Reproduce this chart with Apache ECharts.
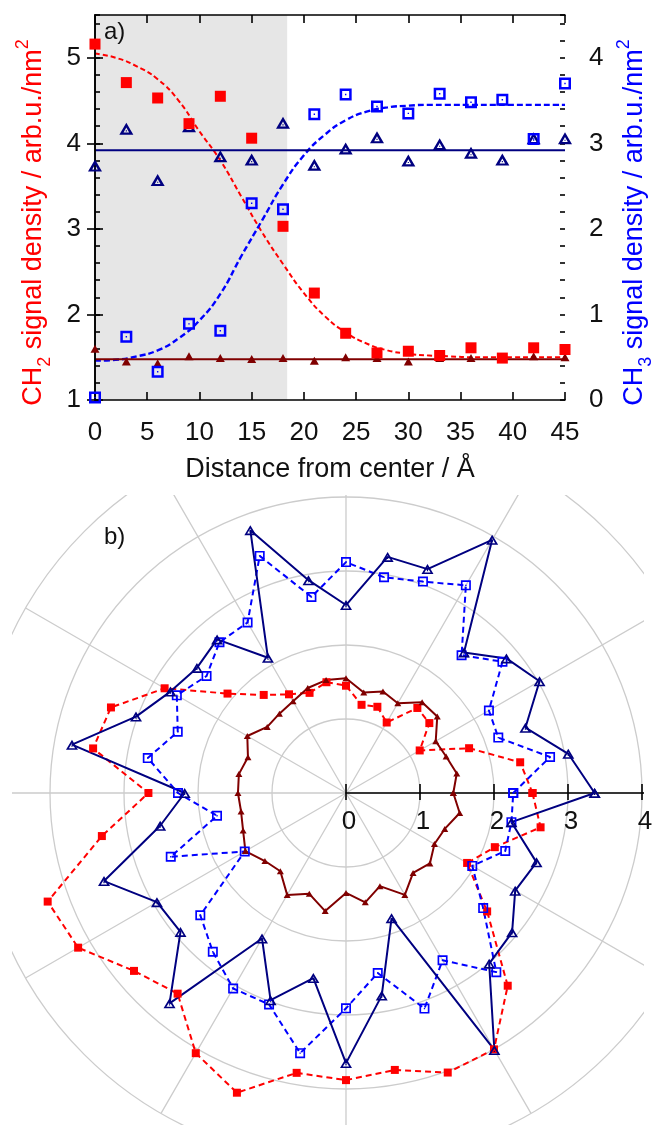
<!DOCTYPE html>
<html>
<head>
<meta charset="utf-8">
<script src="https://cdn.jsdelivr.net/npm/echarts@6/dist/echarts.min.js"></script>
<style>
  html, body { margin: 0; padding: 0; background: #fff; }
  #chart { width: 655px; height: 1125px; }
</style>
</head>
<body>
<div id="chart"></div>
<script>
// ---- a) radial profiles (distance from center, Å) ----
const distance     = [0, 3, 6, 9, 12, 15, 18, 21, 24, 27, 30, 33, 36, 39, 42, 45];
const ch2Density   = [5.16, 4.71, 4.53, 4.23, 4.55, 4.06, 3.03, 2.25, 1.78, 1.55, 1.57, 1.52, 1.61, 1.49, 1.61, 1.59];
const ch3Density   = [0.03, 0.74, 0.33, 0.89, 0.81, 2.30, 2.23, 3.34, 3.57, 3.43, 3.35, 3.58, 3.48, 3.51, 3.05, 3.70];
const ch3Reference = [2.74, 3.17, 2.57, 3.20, 2.85, 2.81, 3.24, 2.75, 2.94, 3.07, 2.80, 2.99, 2.89, 2.81, 3.06, 3.06];
const ch2Reference = [1.60, 1.45, 1.43, 1.51, 1.49, 1.48, 1.49, 1.46, 1.50, 1.49, 1.45, 1.49, 1.49, 1.49, 1.51, 1.50];
const ch3ReferenceMean = 2.92;
const ch2ReferenceMean = 1.475;

// fitted profiles, sampled every 2 Å
const fitX   = [0, 2, 4, 6, 8, 10, 12, 14, 16, 18, 20, 22, 24, 26, 28, 30, 32, 34, 36, 38, 40, 42, 44, 45];
const ch2Fit = [5.05, 5.00, 4.90, 4.75, 4.50, 4.14, 3.80, 3.38, 2.96, 2.59, 2.25, 1.98, 1.79, 1.66, 1.58, 1.54, 1.52, 1.51, 1.50, 1.50, 1.50, 1.50, 1.50, 1.50];
const ch3Fit = [0.46, 0.47, 0.51, 0.58, 0.72, 0.93, 1.24, 1.68, 2.10, 2.52, 2.86, 3.10, 3.27, 3.37, 3.42, 3.44, 3.45, 3.45, 3.45, 3.45, 3.45, 3.45, 3.45, 3.45];

const coreRadius = 18.4;   // shaded core region, Å

// ---- b) angular profiles (degrees) ----
const angleDeg = [0, 10, 20, 30, 40, 50, 60, 70, 80, 90, 100, 110, 120, 130, 140, 150, 160, 170,
                  180, 190, 200, 210, 220, 230, 240, 250, 260, 270, 280, 290, 300, 310, 320, 330, 340, 350];
const ch2Polar = [2.52, 2.39, 1.77, 1.15, 1.47, 1.50, 1.10, 1.24, 1.21, 1.45, 1.52, 1.44, 1.54, 1.73, 2.09, 2.83, 3.38, 3.47,
                  2.67, 3.35, 4.29, 4.18, 3.74, 3.54, 4.06, 4.31, 3.84, 3.88, 3.80, 4.02, 4.00, 3.40, 2.49, 1.89, 2.14, 2.67];
const ch3Polar = [2.26, 2.80, 2.19, 2.23, 2.76, 2.43, 3.24, 3.04, 2.96, 3.12, 2.69, 3.41, 2.66, 2.66, 2.46, 2.64, 2.42, 2.72,
                  2.27, 1.77, 2.52, 1.58, 2.57, 2.80, 3.05, 3.04, 3.57, 2.91, 2.47, 3.10, 2.61, 3.16, 2.42, 1.97, 2.29, 2.27];
const ch3RefPolar = [3.36, 3.05, 2.58, 3.02, 2.83, 2.48, 3.95, 3.22, 3.24, 2.54, 2.92, 3.78, 2.11, 2.71, 2.63, 2.74, 3.02, 3.76,
                     2.18, 2.55, 3.48, 2.95, 2.92, 3.71, 2.27, 2.98, 2.54, 3.65, 2.78, 1.80, 4.01, 3.01, 2.93, 2.64, 2.74, 2.27];
const ch2RefPolar = [1.45, 1.52, 1.44, 1.40, 1.61, 1.60, 1.40, 1.46, 1.38, 1.55, 1.55, 1.51, 1.43, 1.40, 1.39, 1.54, 1.41, 1.47,
                     1.46, 1.44, 1.48, 1.57, 1.43, 1.38, 1.59, 1.45, 1.62, 1.35, 1.50, 1.34, 1.59, 1.41, 1.48, 1.38, 1.42, 1.56];

// ---- styling ----
const FONT = '"Liberation Sans", Arial, Helvetica, sans-serif';
const RED = '#ff0000', BLUE = '#0000ff', NAVY = '#000080', MAROON = '#800000';
const INK = '#111111', GRID = '#cccccc';
const TICK_FONT = 26, TITLE_FONT = 27;
// open square / open triangle with a centre dot (bold variants for panel a)
const SQUARE_OPEN = 'path://M0,0H12V12H0Z M2,2V10H10V2Z M5.2,5.2H6.8V6.8H5.2Z';
const SQUARE_BOLD = 'path://M0,0H12V12H0Z M2.5,2.5V9.5H9.5V2.5Z M5.3,5.3H6.7V6.7H5.3Z';
const TRI_OPEN = 'path://M6,0L12,11H0Z M6,3.8L2.9,9.3H9.1Z M5.4,6.6H6.6V7.8H5.4Z';
const TRI_BOLD = 'path://M6,0L12,11H0Z M6,4.4L3.6,9H8.4Z M5.5,6.9H6.5V7.9H5.5Z';

const zip = (xs, ys) => xs.map((x, i) => [x, ys[i]]);
const ring = vals => vals.map((r, i) => [r, angleDeg[i]]).concat([[vals[0], 360]]);

const axisLineStyle = { color: '#000', width: 1.6 };

function titleStyle(color) {
  return {
    color: color, fontFamily: FONT,
    padding: [0, 30, 0, 0],
    rich: {
      m:   { fontSize: TITLE_FONT, color: color, fontFamily: FONT, lineHeight: 40, verticalAlign: 'middle' },
      sub: { fontSize: 18, color: color, fontFamily: FONT, lineHeight: 18, verticalAlign: 'bottom' },
      sup: { fontSize: 18, color: color, fontFamily: FONT, lineHeight: 18, verticalAlign: 'top' }
    }
  };
}

const minorY = (min, max, pos) => ({
  type: 'value', min: min, max: max, interval: 0.2, position: pos, z: 5,
  axisLine: { show: false },
  axisTick: { show: true, inside: true, length: 5, lineStyle: axisLineStyle },
  axisLabel: { show: false }, splitLine: { show: false }
});

const option = {
  animation: false,
  backgroundColor: '#fff',
  textStyle: { fontFamily: FONT },
  grid: { left: 95, top: 15, width: 470, height: 385, show: false, containLabel: false, outerBoundsMode: 'none' },
  xAxis: [
    {
      type: 'value', min: 0, max: 45, interval: 5, position: 'bottom', z: 5,
      axisLine: { onZero: false, lineStyle: axisLineStyle },
      axisTick: { inside: true, length: 8, lineStyle: axisLineStyle },
      axisLabel: { fontSize: TICK_FONT, color: INK, margin: 20, fontFamily: FONT },
      splitLine: { show: false },
      name: 'Distance from center / Å', nameLocation: 'middle', nameGap: 56,
      nameTextStyle: { fontSize: TITLE_FONT, color: INK, fontFamily: FONT }
    },
    {
      type: 'value', min: 0, max: 45, interval: 5, position: 'top', z: 5,
      axisLine: { onZero: false, lineStyle: axisLineStyle },
      axisTick: { inside: true, length: 8, lineStyle: axisLineStyle },
      axisLabel: { show: false }, splitLine: { show: false }
    }
  ],
  yAxis: [
    {
      type: 'value', min: 1, max: 5.5, interval: 1, position: 'left', z: 5,
      axisLine: { show: true, lineStyle: axisLineStyle },
      axisTick: { inside: true, length: 8, lineStyle: axisLineStyle },
      axisLabel: { fontSize: TICK_FONT, color: INK, margin: 14, showMaxLabel: false, fontFamily: FONT },
      splitLine: { show: false },
      name: '{m|CH}{sub|2}{m| signal density / arb.u./nm}{sup|2}',
      nameLocation: 'middle', nameRotate: 90, nameGap: 41,
      nameTextStyle: titleStyle(RED)
    },
    {
      type: 'value', min: 0, max: 4.5, interval: 1, position: 'right', z: 5,
      axisLine: { show: true, lineStyle: axisLineStyle },
      axisTick: { inside: true, length: 8, lineStyle: axisLineStyle },
      axisLabel: { fontSize: TICK_FONT, color: INK, margin: 24, showMaxLabel: false, fontFamily: FONT },
      splitLine: { show: false },
      name: '{m|CH}{sub|3}{m| signal density / arb.u./nm}{sup|2}',
      nameLocation: 'middle', nameRotate: 90, nameGap: 50,
      nameTextStyle: titleStyle(BLUE)
    },
    minorY(1, 5.5, 'left'),
    minorY(0, 4.5, 'right')
  ],
  polar: [
    { center: [346, 793], radius: 370 },
    { center: [346, 793], radius: 370 }
  ],
  angleAxis: [
    {
      polarIndex: 0, type: 'value', min: 0, max: 360, interval: 30, startAngle: 0, clockwise: false, z: 0,
      axisLine: { show: false }, axisTick: { show: false }, axisLabel: { show: false },
      splitLine: { show: true, lineStyle: { color: GRID, width: 1.3 } }
    },
    { polarIndex: 1, type: 'value', min: 0, max: 360, startAngle: 0, clockwise: false, show: false }
  ],
  radiusAxis: [
    {
      // axis line, upper ticks and circular grid
      polarIndex: 0, type: 'value', min: 0, max: 5, interval: 1, z: 1,
      axisLine: { show: true, lineStyle: axisLineStyle },
      axisTick: { show: true, length: 9, lineStyle: axisLineStyle },
      axisLabel: { show: false },
      splitLine: { show: true, lineStyle: { color: GRID, width: 1.3 } }
    },
    {
      // lower ticks and tick labels below the axis
      polarIndex: 1, type: 'value', min: 0, max: 5, interval: 1, z: 3,
      axisLine: { show: false },
      axisTick: { show: true, length: -7, lineStyle: axisLineStyle },
      axisLabel: { fontSize: TICK_FONT, color: INK, margin: -42, padding: [0, 0, 0, 6], fontFamily: FONT },
      splitLine: { show: false }
    }
  ],
  graphic: [
    // keep the polar grid inside its panel
    { type: 'rect', z: 2, silent: true, shape: { x: 0, y: 0, width: 655, height: 495 }, style: { fill: '#fff' } },
    { type: 'rect', z: 2, silent: true, shape: { x: 0, y: 0, width: 12, height: 1125 }, style: { fill: '#fff' } },
    { type: 'rect', z: 2, silent: true, shape: { x: 644, y: 0, width: 11, height: 1125 }, style: { fill: '#fff' } },
    { type: 'text', z: 10, left: 104, top: 20, style: { text: 'a)', font: '24px ' + FONT, fill: INK } },
    { type: 'text', z: 10, left: 104, top: 525, style: { text: 'b)', font: '24px ' + FONT, fill: INK } }
  ],
  series: [
    // shaded core region
    {
      type: 'line', xAxisIndex: 0, yAxisIndex: 0, data: [], z: 3, silent: true,
      markArea: { silent: true, z: 3, itemStyle: { color: '#e6e6e6' }, data: [[{ xAxis: 0 }, { xAxis: coreRadius }]] }
    },
    {
      name: 'CH2 fit', type: 'line', xAxisIndex: 0, yAxisIndex: 0, z: 4,
      data: zip(fitX, ch2Fit), smooth: 0.5, symbol: 'none',
      lineStyle: { color: RED, width: 2, type: [5, 3] }
    },
    {
      name: 'CH3 fit', type: 'line', xAxisIndex: 0, yAxisIndex: 1, z: 4,
      data: zip(fitX, ch3Fit), smooth: 0.5, symbol: 'none',
      lineStyle: { color: BLUE, width: 2.4, type: [6, 3] }
    },
    {
      name: 'CH3 reference mean', type: 'line', xAxisIndex: 0, yAxisIndex: 1, z: 4, symbol: 'none',
      data: [[distance[0], ch3ReferenceMean], [distance[distance.length - 1], ch3ReferenceMean]],
      lineStyle: { color: NAVY, width: 2 }
    },
    {
      name: 'CH2 reference mean', type: 'line', xAxisIndex: 0, yAxisIndex: 0, z: 4, symbol: 'none',
      data: [[distance[0], ch2ReferenceMean], [distance[distance.length - 1], ch2ReferenceMean]],
      lineStyle: { color: MAROON, width: 2 }
    },
    {
      name: 'CH2 reference', type: 'scatter', xAxisIndex: 0, yAxisIndex: 0, z: 5,
      data: zip(distance, ch2Reference), symbol: 'triangle', symbolSize: [9, 8],
      itemStyle: { color: MAROON, borderWidth: 0, opacity: 1 }
    },
    {
      name: 'CH3 reference', type: 'scatter', xAxisIndex: 0, yAxisIndex: 1, z: 5,
      data: zip(distance, ch3Reference), symbol: TRI_BOLD, symbolSize: [14, 12],
      itemStyle: { color: NAVY, borderWidth: 0, opacity: 1 }
    },
    {
      name: 'CH2', type: 'scatter', xAxisIndex: 0, yAxisIndex: 0, z: 5,
      data: zip(distance, ch2Density), symbol: 'rect', symbolSize: 11,
      itemStyle: { color: RED, borderWidth: 0, opacity: 1 }
    },
    {
      name: 'CH3', type: 'scatter', xAxisIndex: 0, yAxisIndex: 1, z: 5,
      data: zip(distance, ch3Density), symbol: SQUARE_BOLD, symbolSize: 12,
      itemStyle: { color: BLUE, borderWidth: 0, opacity: 1 }
    },
    // b) polar profiles
    {
      name: 'CH2 angular', type: 'line', coordinateSystem: 'polar', polarIndex: 0, z: 4,
      data: ring(ch2Polar), symbol: 'rect', symbolSize: 8,
      lineStyle: { color: RED, width: 2, type: [6, 4] },
      itemStyle: { color: RED, borderWidth: 0 }
    },
    {
      name: 'CH3 angular', type: 'line', coordinateSystem: 'polar', polarIndex: 0, z: 4,
      data: ring(ch3Polar), symbol: SQUARE_OPEN, symbolSize: 10,
      lineStyle: { color: BLUE, width: 2, type: [6, 4] },
      itemStyle: { color: BLUE, borderWidth: 0 }
    },
    {
      name: 'CH3 reference angular', type: 'line', coordinateSystem: 'polar', polarIndex: 0, z: 4,
      data: ring(ch3RefPolar), symbol: TRI_OPEN, symbolSize: [12, 10],
      lineStyle: { color: NAVY, width: 2 },
      itemStyle: { color: NAVY, borderWidth: 0 }
    },
    {
      name: 'CH2 reference angular', type: 'line', coordinateSystem: 'polar', polarIndex: 0, z: 4,
      data: ring(ch2RefPolar), symbol: 'triangle', symbolSize: [7, 6],
      lineStyle: { color: MAROON, width: 2 },
      itemStyle: { color: MAROON, borderWidth: 0 }
    }
  ]
};

const chart = echarts.init(document.getElementById('chart'), null, { renderer: 'canvas' });
chart.setOption(option);
</script>
</body>
</html>
